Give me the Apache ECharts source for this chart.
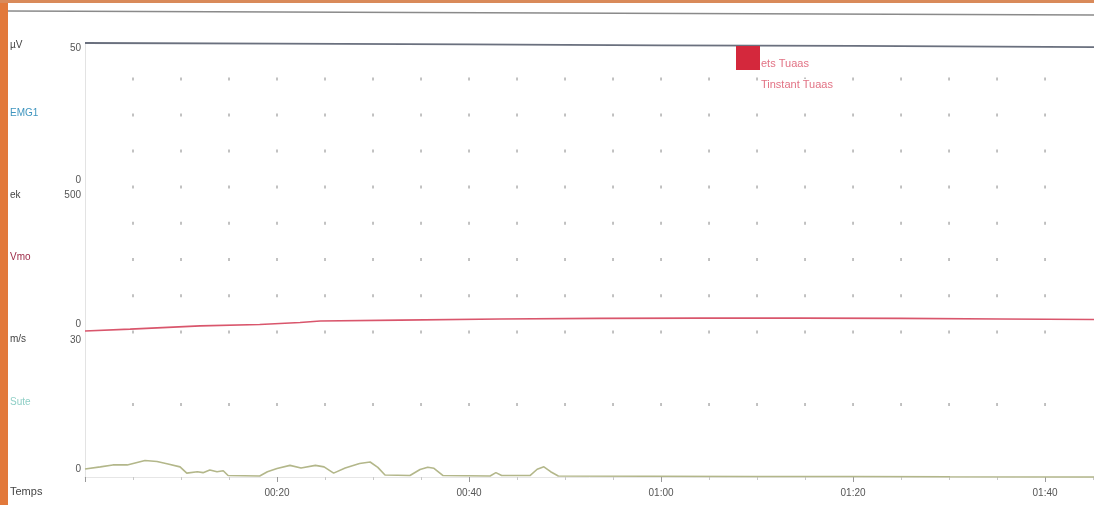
<!DOCTYPE html>
<html>
<head>
<meta charset="utf-8">
<script src="https://cdn.jsdelivr.net/npm/echarts@6/dist/echarts.min.js"></script>
<style>
  html, body { margin: 0; padding: 0; background: #ffffff; }
  #chart { width: 1094px; height: 505px; }
</style>
</head>
<body>
<div id="chart"></div>
<script>
// Recorded channels: [time (s), value]
const emg1 = [[0, 50], [20, 49.8], [40, 49.5], [60, 49.2], [80, 49.0], [105.1, 48.6]];

const vmo = [
  [0, 3.4], [4.7, 10], [12.0, 21], [18.2, 26], [22.4, 33], [24.5, 38], [32.8, 41],
  [43.2, 45], [53.6, 47], [64.1, 48], [74.5, 48], [84.9, 47], [95.3, 45], [105.1, 43]
];

const sute = [
  [0, 1.65], [1.6, 2.1], [2.9, 2.5], [4.4, 2.5], [6.25, 3.4], [7.5, 3.2], [8.65, 2.7],
  [9.9, 2.1], [10.6, 0.8], [11.7, 1.1], [12.3, 0.9], [13.0, 1.45], [13.75, 1.1], [14.4, 1.3],
  [14.9, 0.3], [18.2, 0.2], [19.0, 1.1], [20.0, 1.75], [21.35, 2.4], [22.5, 1.85], [24.0, 2.4],
  [24.9, 2.1], [25.9, 0.8], [27.1, 1.85], [28.6, 2.8], [29.7, 3.1], [30.5, 2.0], [31.25, 0.4],
  [33.85, 0.3], [34.9, 1.55], [35.7, 2.0], [36.35, 1.8], [37.3, 0.3], [42.2, 0.2], [42.8, 0.9],
  [43.4, 0.3], [46.35, 0.3], [47.1, 1.6], [47.8, 2.1], [48.5, 1.1], [49.3, 0.2], [58.9, 0.15],
  [69.3, 0.1], [79.7, 0.1], [90.1, 0.05], [105.1, 0]
];

const channelNames = ['EMG1', 'Vmo', 'Sute'];
const channelUnits = ['µV', 'ek', 'm/s'];
const axisRanges = [[0, 50], [0, 500], [0, 30]];
const timeRange = [0, 105.1];
const timeLabelStep = 20;

// reference grid marks (time and level of each dotted row)
const dotTimes = [5, 10, 15, 20, 25, 30, 35, 40, 45, 50, 55, 60, 65, 70, 75, 80, 85, 90, 95, 100];
const dotRows = [[0, 12.5, 25, 37.5], [0, 125, 250, 375], [15]];

const eventLabels = ['ets Tuaas', 'Tinstant Tuaas'];

// ---- layout ----
const panelTop = [43, 187, 332];
const panelHeight = [144, 145, 145];
const unitOffset = [-3, 3, 2];
const plotLeft = 85;
const lineColors = ['#6a707e', '#d9566c', '#b3b78a'];
const nameColors = ['#3f95bf', '#9c2a46', '#8fcfc6'];
const textFont = '"Liberation Sans", Arial, sans-serif';

const chart = echarts.init(document.getElementById('chart'), null, { renderer: 'canvas' });

const grids = panelTop.map((top, i) => ({
  left: plotLeft, right: 0, top: top, height: panelHeight[i], containLabel: false
}));

const pad2 = n => String(n).padStart(2, '0');
const fmtTime = v => pad2(Math.floor(v / 60)) + ':' + pad2(Math.round(v % 60));

const xAxes = panelTop.map((_, i) => ({
  type: 'value', gridIndex: i, min: timeRange[0], max: timeRange[1], interval: timeLabelStep,
  show: i === 2,
  axisLine: { show: true, lineStyle: { color: '#e6e6e6' } },
  axisTick: { show: true, length: 5, lineStyle: { color: '#9a9a9a' } },
  minorTick: { show: true, splitNumber: 4, length: 3, lineStyle: { color: '#c8c8c8' } },
  splitLine: { show: false },
  axisLabel: {
    show: i === 2, showMinLabel: false, showMaxLabel: false, margin: 11,
    fontFamily: textFont, fontSize: 10, color: '#555',
    formatter: fmtTime
  }
}));

const yAxes = axisRanges.map((r, i) => ({
  type: 'value', gridIndex: i, min: r[0], max: r[1], interval: r[1] - r[0],
  axisLine: { show: true, lineStyle: { color: '#e3e3e3' } },
  axisTick: { show: false },
  splitLine: { show: false },
  axisLabel: {
    showMinLabel: true, showMaxLabel: true, margin: 4,
    verticalAlignMaxLabel: 'top', verticalAlignMinLabel: 'bottom',
    padding: i === 0 ? [0, 0, 2, 0] : [3, 0, 3, 0],
    fontFamily: textFont, fontSize: 10, color: '#555'
  }
}));

const traces = [emg1, vmo, sute];
const series = [];

dotRows.forEach((rows, i) => {
  const pts = [];
  rows.forEach(v => dotTimes.forEach(t => pts.push([t, v])));
  series.push({
    type: 'scatter', xAxisIndex: i, yAxisIndex: i, data: pts,
    symbol: 'rect', symbolSize: [1.3, 3], silent: true, z: 1,
    itemStyle: { color: '#8a8a8a' }
  });
});

traces.forEach((d, i) => {
  series.push({
    type: 'line', name: channelNames[i], xAxisIndex: i, yAxisIndex: i, data: d,
    showSymbol: false, smooth: false, clip: false, z: 3,
    lineStyle: { width: i === 0 ? 1.8 : 1.6, color: lineColors[i] }
  });
});

// channel captions on the left
const sideText = [];
panelTop.forEach((top, i) => {
  sideText.push({
    type: 'text', left: 10, top: top + unitOffset[i],
    style: { text: channelUnits[i], fill: '#444', font: '10px ' + textFont }
  });
  sideText.push({
    type: 'text', left: 10, top: top + panelHeight[i] / 2 - 7,
    style: { text: channelNames[i], fill: nameColors[i], font: '10px ' + textFont }
  });
});

const option = {
  animation: false,
  backgroundColor: '#ffffff',
  grid: grids,
  xAxis: xAxes,
  yAxis: yAxes,
  series: series,
  graphic: [
    // window frame
    { type: 'rect', left: 0, top: 0, shape: { width: 8, height: 505 }, style: { fill: '#e2793b' }, z: 10 },
    { type: 'rect', left: 0, top: 0, shape: { width: 1094, height: 3 }, style: { fill: '#d98a5a' }, z: 10 },
    { type: 'line', shape: { x1: 8, y1: 11, x2: 1094, y2: 15 }, style: { stroke: '#8a8a8a', lineWidth: 1.5 }, z: 10 },
    // event marker with its caption
    { type: 'rect', left: 736, top: 46, shape: { width: 24, height: 24 }, style: { fill: '#d4283c' }, z: 12 },
    { type: 'text', left: 761, top: 58, style: { text: eventLabels[0], fill: '#e27284', font: '11px ' + textFont, backgroundColor: '#ffffff' }, z: 11 },
    { type: 'text', left: 761, top: 79, style: { text: eventLabels[1], fill: '#e27284', font: '11px ' + textFont, backgroundColor: '#ffffff' }, z: 11 },
    // time axis caption
    { type: 'text', left: 10, top: 486, style: { text: 'Temps', fill: '#444', font: '11px ' + textFont } }
  ].concat(sideText)
};

chart.setOption(option);
</script>
</body>
</html>
